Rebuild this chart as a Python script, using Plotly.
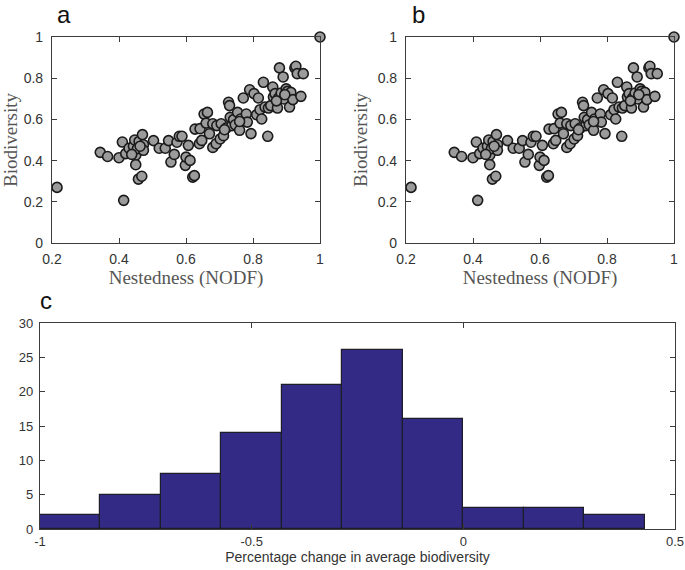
import plotly.graph_objects as go

# ---- data ----
nodf = [0.215, 0.344, 0.366, 0.400, 0.410, 0.414, 0.420, 0.430, 0.443, 0.447,
        0.450, 0.450, 0.458, 0.468, 0.460, 0.455, 0.470, 0.473, 0.473, 0.463,
        0.503, 0.520, 0.538, 0.548, 0.555, 0.565, 0.573, 0.580, 0.588, 0.598,
        0.600, 0.607, 0.612, 0.620, 0.625, 0.627, 0.640, 0.642, 0.647, 0.654,
        0.664, 0.660, 0.670, 0.680, 0.680, 0.690, 0.692, 0.702, 0.705, 0.712,
        0.720, 0.727, 0.730, 0.732, 0.737, 0.742, 0.747, 0.754, 0.760, 0.763,
        0.771, 0.780, 0.783, 0.790, 0.794, 0.803, 0.811, 0.816, 0.821, 0.826,
        0.831, 0.836, 0.844, 0.846, 0.853, 0.859, 0.861, 0.866, 0.873, 0.876,
        0.879, 0.884, 0.890, 0.892, 0.899, 0.903, 0.909, 0.913, 0.919, 0.925,
        0.928, 0.932, 0.943, 0.950, 1.000, 0.438, 0.870, 0.895, 0.760, 0.715]
biodiversity = [0.27, 0.44, 0.42, 0.414, 0.49, 0.207, 0.434, 0.46, 0.47, 0.50,
                0.426, 0.38, 0.31, 0.324, 0.493, 0.458, 0.526, 0.477, 0.45, 0.47,
                0.497, 0.46, 0.46, 0.497, 0.393, 0.43, 0.489, 0.518, 0.518, 0.377,
                0.417, 0.474, 0.401, 0.32, 0.327, 0.553, 0.482, 0.555, 0.498, 0.626,
                0.634, 0.582, 0.53, 0.464, 0.579, 0.482, 0.57, 0.505, 0.579, 0.521,
                0.558, 0.683, 0.667, 0.61, 0.57, 0.599, 0.574, 0.634, 0.547, 0.602,
                0.704, 0.626, 0.587, 0.744, 0.531, 0.725, 0.623, 0.704, 0.647, 0.602,
                0.78, 0.66, 0.518, 0.655, 0.667, 0.757, 0.709, 0.725, 0.655, 0.704,
                0.85, 0.728, 0.806, 0.699, 0.748, 0.736, 0.66, 0.731, 0.696, 0.85,
                0.858, 0.822, 0.712, 0.822, 1.0, 0.43, 0.69, 0.72, 0.59, 0.55]

hist_counts = [2, 5, 8, 14, 21, 26, 16, 3, 3, 2]
hist_start = -1.0
hist_width = 1 / 7

scatter_xticks = [0.2, 0.4, 0.6, 0.8, 1.0]
scatter_xticklabels = ["0.2", "0.4", "0.6", "0.8", "1"]
scatter_yticks = [0, 0.2, 0.4, 0.6, 0.8, 1.0]
scatter_yticklabels = ["0", "0.2", "0.4", "0.6", "0.8", "1"]
hist_xticks = [-1, -0.5, 0, 0.5]
hist_xticklabels = ["-1", "-0.5", "0", "0.5"]
hist_yticks = [0, 5, 10, 15, 20, 25, 30]

# ---- figure ----
W, H = 685, 570
AXC = "#3c3c3c"
TXT = "#333333"

fig = go.Figure()

marker = dict(size=10, color="#9b9b9b", line=dict(color="#1a1a1a", width=1.6))
for xa, ya in [("x", "y"), ("x2", "y2")]:
    fig.add_trace(go.Scatter(x=nodf, y=biodiversity, mode="markers", marker=marker,
                             xaxis=xa, yaxis=ya, cliponaxis=False, showlegend=False,
                             hoverinfo="skip"))

centers = [hist_start + (i + 0.5) * hist_width for i in range(len(hist_counts))]
fig.add_trace(go.Bar(x=centers, y=hist_counts, width=[hist_width] * len(hist_counts),
                     marker=dict(color="#322a84", line=dict(color="#1e1e2a", width=1.2)),
                     xaxis="x3", yaxis="y3", showlegend=False, hoverinfo="skip"))

def px_x(p):
    return p / W

def px_y(p):
    return 1 - p / H

common = dict(showline=True, linecolor=AXC, linewidth=1.2, mirror="allticks",
              ticks="inside", ticklen=5, tickcolor=AXC, tickwidth=1,
              showgrid=False, zeroline=False, automargin=False)
tickfont_s = dict(family="Liberation Sans, Arial, sans-serif", size=14, color=TXT)
serif_title = dict(family="Liberation Serif, Times New Roman, serif", size=19, color="#555555")
narrow = "Liberation Sans Narrow, Liberation Sans, Arial"

layout = dict(
    width=W, height=H, margin=dict(l=0, r=0, t=0, b=0),
    paper_bgcolor="white", plot_bgcolor="white", bargap=0,
    xaxis=dict(domain=[px_x(52), px_x(320)], range=[0.2, 1], tickvals=scatter_xticks,
               ticktext=scatter_xticklabels, tickfont=tickfont_s, anchor="y",
               ticklabelstandoff=3,
               title=dict(text="Nestedness (NODF)", font=serif_title, standoff=4), **common),
    yaxis=dict(domain=[px_y(243), px_y(37)], range=[0, 1], tickvals=scatter_yticks,
               ticktext=scatter_yticklabels, tickfont=tickfont_s, anchor="x",
               ticklabelstandoff=5,
               title=dict(text="Biodiversity", font=serif_title, standoff=4), **common),
    xaxis2=dict(domain=[px_x(406), px_x(674)], range=[0.2, 1], tickvals=scatter_xticks,
                ticktext=scatter_xticklabels, tickfont=tickfont_s, anchor="y2",
                ticklabelstandoff=3,
                title=dict(text="Nestedness (NODF)", font=serif_title, standoff=4), **common),
    yaxis2=dict(domain=[px_y(243), px_y(37)], range=[0, 1], tickvals=scatter_yticks,
                ticktext=scatter_yticklabels, tickfont=tickfont_s, anchor="x2",
                ticklabelstandoff=5,
                title=dict(text="Biodiversity", font=serif_title, standoff=4), **common),
    xaxis3=dict(domain=[px_x(40), px_x(675)], range=[-1, 0.5], tickvals=hist_xticks,
                ticktext=hist_xticklabels, anchor="y3",
                tickfont=dict(family=narrow, size=13, color=TXT),
                title=dict(text="Percentage change in average biodiversity",
                           font=dict(family=narrow, size=14, color=TXT), standoff=2), **common),
    yaxis3=dict(domain=[px_y(529), px_y(323)], range=[0, 30], tickvals=hist_yticks,
                anchor="x3", ticklabelstandoff=3,
                tickfont=dict(family=narrow, size=13, color=TXT), **common),
    annotations=[
        dict(text="a", x=px_x(55), y=px_y(15), xref="paper", yref="paper", xanchor="left",
             yanchor="middle", showarrow=False, font=dict(family="Liberation Sans, Arial", size=24, color="#111")),
        dict(text="b", x=px_x(410), y=px_y(15), xref="paper", yref="paper", xanchor="left",
             yanchor="middle", showarrow=False, font=dict(family="Liberation Sans, Arial", size=24, color="#111")),
        dict(text="c", x=px_x(38), y=px_y(300), xref="paper", yref="paper", xanchor="left",
             yanchor="middle", showarrow=False, font=dict(family="Liberation Sans, Arial", size=24, color="#111")),
    ],
)
fig.update_layout(**layout)

fig.write_html("out.html", config={"displayModeBar": False},
               post_script="document.body.style.margin='0';")
